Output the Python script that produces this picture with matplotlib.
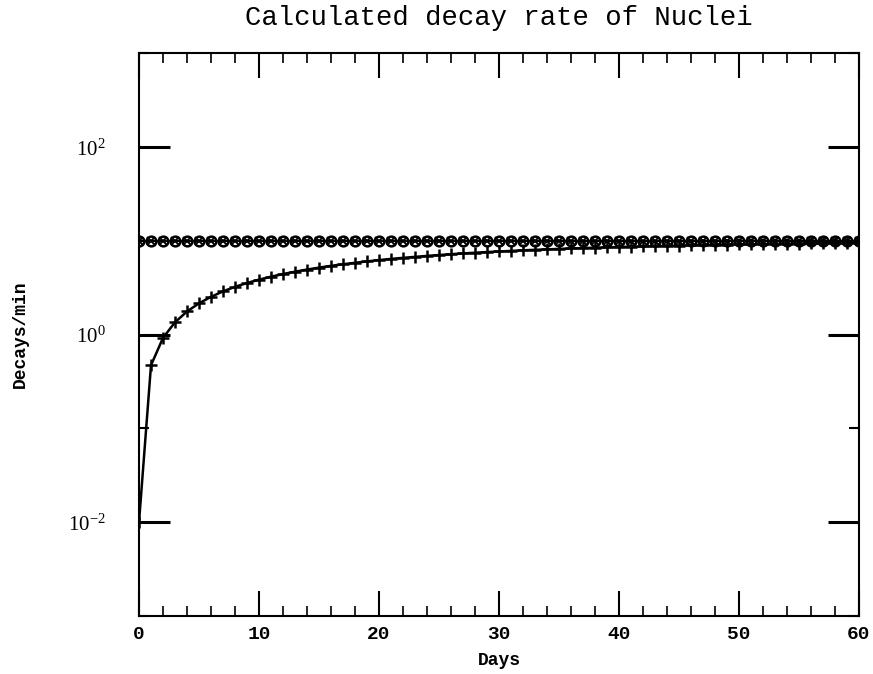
import matplotlib
matplotlib.use("Agg")
import matplotlib.pyplot as plt
from matplotlib.ticker import FixedLocator, FixedFormatter

# ---- data ----
days = list(range(0, 61))
parent_rate = [10.0] * 61
daughter_rate = [0.010, 0.47, 0.92, 1.35, 1.76, 2.15, 2.52, 2.88, 3.22, 3.54,
                 3.84, 4.13, 4.41, 4.67, 4.92, 5.16, 5.39, 5.61, 5.81, 6.01,
                 6.21, 6.39, 6.56, 6.72, 6.88, 7.03, 7.17, 7.31, 7.44, 7.56,
                 7.67, 7.78, 7.89, 7.99, 8.08, 8.17, 8.26, 8.34, 8.42, 8.49,
                 8.56, 8.63, 8.69, 8.75, 8.81, 8.87, 8.92, 8.97, 9.02, 9.06,
                 9.11, 9.15, 9.19, 9.22, 9.26, 9.29, 9.33, 9.36, 9.39, 9.41,
                 9.44]
x_ticks = [0, 10, 20, 30, 40, 50, 60]
x_ticklabels = ["0", "10", "20", "30", "40", "50", "60"]
y_major = [1e-2, 1e0, 1e2]
y_ticklabels = [r"$10^{-2}$", r"$10^{0}$", r"$10^{2}$"]
y_minor = [1e-3, 1e-1, 1e1, 1e3]

plt.rcParams['mathtext.fontset'] = 'custom'
plt.rcParams['mathtext.rm'] = 'Liberation Serif'
plt.rcParams['mathtext.it'] = 'Liberation Serif'

fig = plt.figure(figsize=(8.73, 6.74), dpi=100)
ax = fig.add_axes([139/873, 1-616/674, (859-139)/873, (616-53)/674])

ax.plot(days, parent_rate, color='black', lw=1.5, marker='o', ms=7,
        mfc='none', mec='black', mew=1.8)
ax.plot(days, parent_rate, color='black', lw=0, marker='x', ms=6, mew=1.4)
ax.plot(days, daughter_rate, color='black', lw=1.8, marker='+', ms=9, mew=1.8)

ax.set_yscale('log')
ax.set_xlim(0, 60)
ax.set_ylim(1e-3, 1e3)

ax.xaxis.set_major_locator(FixedLocator(x_ticks))
ax.xaxis.set_major_formatter(FixedFormatter(x_ticklabels))
ax.xaxis.set_minor_locator(FixedLocator([v for v in range(0, 61, 2) if v % 10]))
ax.yaxis.set_major_locator(FixedLocator(y_major))
ax.yaxis.set_major_formatter(FixedFormatter(y_ticklabels))
ax.yaxis.set_minor_locator(FixedLocator(y_minor))
ax.yaxis.set_minor_formatter(FixedFormatter([""] * len(y_minor)))

ax.tick_params(which='both', direction='in', top=True, right=True)
ax.tick_params(axis='x', which='major', length=18, width=1.5, pad=7)
ax.tick_params(axis='x', which='minor', length=7, width=1.2)
ax.tick_params(axis='y', which='major', length=22, width=2.2, pad=24)
ax.tick_params(axis='y', which='minor', length=7, width=1.5)
for s in ax.spines.values():
    s.set_linewidth(1.5)

for lbl in ax.get_xticklabels():
    lbl.set_fontfamily('Liberation Mono')
    lbl.set_fontweight('bold')
    lbl.set_fontsize(14)
for lbl in ax.get_yticklabels():
    lbl.set_fontsize(15)

ax.set_xlabel("Days", fontfamily='Liberation Mono', fontweight='bold',
              fontsize=13, labelpad=7)
ax.set_ylabel("Decays/min", fontfamily='Liberation Mono', fontweight='bold',
              fontsize=13, labelpad=28)
ax.set_title("Calculated decay rate of Nuclei", fontfamily='Liberation Mono',
             fontsize=19.6, pad=20)

fig.savefig("out.png", dpi=100)
